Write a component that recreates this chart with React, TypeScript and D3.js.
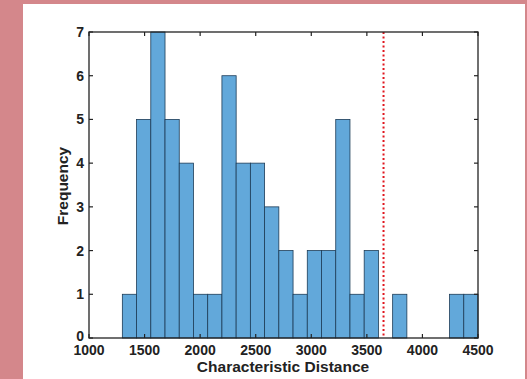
import React from "react";
import * as d3 from "d3";

const binStart = 1300;
const binWidth = 128;
const counts = [1, 5, 7, 5, 4, 1, 1, 6, 4, 4, 3, 2, 1, 2, 2, 5, 1, 2, 0, 1, 0, 0, 0, 1, 1];
const xTicks = [1000, 1500, 2000, 2500, 3000, 3500, 4000, 4500];
const yTicks = [0, 1, 2, 3, 4, 5, 6, 7];
const thresholdValue = 3650;
const xLabel = "Characteristic Distance";
const yLabel = "Frequency";

const W = 527;
const H = 379;
const M = { left: 89, right: 478, top: 32, bottom: 338 };

export default function App() {
  const x = d3.scaleLinear().domain([1000, 4500]).range([M.left, M.right]);
  const y = d3.scaleLinear().domain([0, 7]).range([M.bottom, M.top]);
  const font = "'Liberation Sans', Arial, Helvetica, sans-serif";
  const tickLen = 4;
  const bins = counts.map((c, i) => ({ x0: binStart + i * binWidth, x1: binStart + (i + 1) * binWidth, c }));
  return (
    <svg width={W} height={H} style={{ position: "absolute", left: 0, top: 0 }} fontFamily={font}>
      <rect x={0} y={0} width={W} height={H} fill="#d4878b" />
      <rect x={23} y={4} width={502} height={H - 4} fill="#ffffff" />
      {bins.filter(b => b.c > 0).map((b, i) => (
        <rect key={i} x={x(b.x0)} y={y(b.c)} width={x(b.x1) - x(b.x0)} height={y(0) - y(b.c)}
          fill="#62a8da" stroke="#1d3c57" strokeWidth={0.8} />
      ))}
      <line x1={x(thresholdValue)} x2={x(thresholdValue)} y1={M.top} y2={M.bottom}
        stroke="#e0161e" strokeWidth={2} strokeDasharray="2,2.5" />
      <rect x={M.left} y={M.top} width={M.right - M.left} height={M.bottom - M.top}
        fill="none" stroke="#222" strokeWidth={1.3} />
      {xTicks.map(t => (
        <g key={"x" + t}>
          <line x1={x(t)} x2={x(t)} y1={M.bottom} y2={M.bottom - tickLen} stroke="#222" strokeWidth={1.2} />
          <line x1={x(t)} x2={x(t)} y1={M.top} y2={M.top + tickLen} stroke="#222" strokeWidth={1.2} />
          <text x={x(t)} y={M.bottom + 17} textAnchor="middle" fontSize={14} fontWeight="bold" fill="#222">{t}</text>
        </g>
      ))}
      {yTicks.map(t => (
        <g key={"y" + t}>
          <line x1={M.left} x2={M.left + tickLen} y1={y(t)} y2={y(t)} stroke="#222" strokeWidth={1.2} />
          <line x1={M.right} x2={M.right - tickLen} y1={y(t)} y2={y(t)} stroke="#222" strokeWidth={1.2} />
          <text x={M.left - 5} y={t === 0 ? y(t) + 2.5 : y(t) + 5} textAnchor="end" fontSize={14} fontWeight="bold" fill="#222">{t}</text>
        </g>
      ))}
      <text x={283} y={372} textAnchor="middle" fontSize={15.5} fontWeight="bold" fill="#222">{xLabel}</text>
      <text transform={`translate(68, 186) rotate(-90)`} textAnchor="middle" fontSize={15.5} fontWeight="bold" fill="#222">{yLabel}</text>
    </svg>
  );
}
